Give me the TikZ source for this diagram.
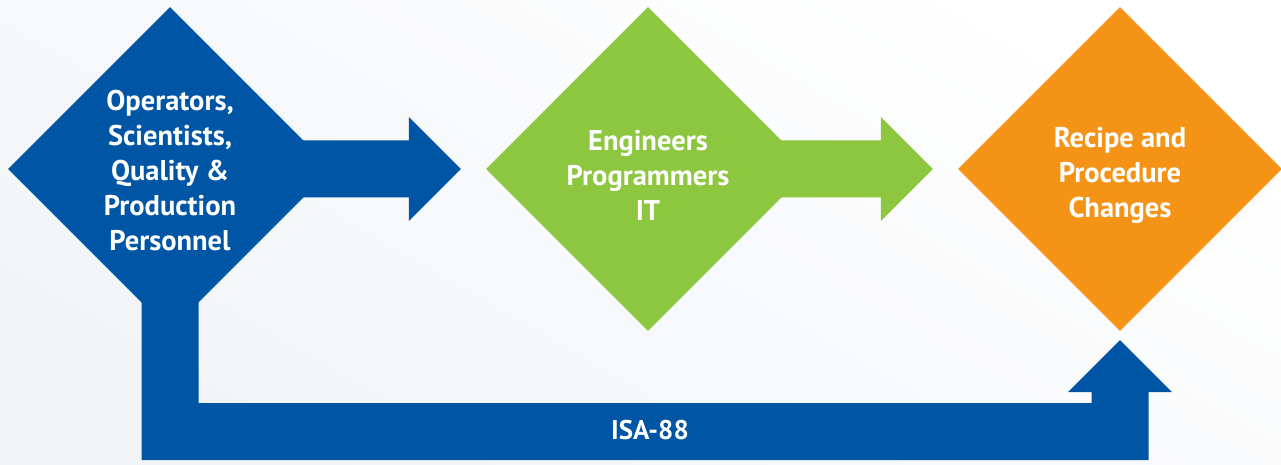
\documentclass[tikz,border=0pt]{standalone}
\usepackage{fontspec}
\setmainfont{PT Sans}
\usetikzlibrary{shapes.geometric,calc,backgrounds}

\definecolor{isablue}{RGB}{0,85,164}
\definecolor{isagreen}{RGB}{141,198,63}
\definecolor{isaorange}{RGB}{244,147,22}
\definecolor{bggray}{RGB}{242,244,247}

\tikzset{
  stage/.style={diamond, minimum width=324pt, minimum height=324pt, inner sep=0pt},
  stagetext/.style={text=white, align=center, font=\bfseries\fontsize{28.5}{35}\selectfont},
  barlabel/.style={text=white, font=\bfseries\fontsize{27}{32}\selectfont}
}

% block arrow from one stage to the next
\newcommand\flowarrow[3]{%
  \fill[#1] ($(#2.center)+(0,28.5)$) -- ($(#3.west)+(-77,28.5)$) -- ++(0,23.5)
    -- ($(#3.west)+(-25,0)$) -- ($(#3.west)+(-77,-52)$) -- ++(0,23.5)
    -- ($(#2.center)+(0,-28.5)$) -- cycle;}

\begin{document}
\begin{tikzpicture}[x=1pt,y=1pt]
\useasboundingbox (0,0) rectangle (1281,464);

\node[stage, fill=isablue, label={[stagetext, yshift=-2pt]center:{Operators,\\Scientists,\\Quality \&\\Production\\Personnel}}] (ops) at (170,295) {};
\node[stage, fill=isagreen, label={[stagetext, yshift=-6pt]center:{Engineers\\Programmers\\IT}}] (eng) at (648,295) {};
\node[stage, fill=isaorange, label={[stagetext, yshift=-6pt]center:{Recipe and\\Procedure\\Changes}}] (rcp) at (1120,295) {};

\begin{scope}[on background layer]
  \shade[shading=axis, top color=white, bottom color=bggray, shading angle=-30] (0,0) rectangle (1281,464);

  \flowarrow{isablue}{ops}{eng}
  \flowarrow{isagreen}{eng}{rcp}

  % ISA-88 path back to the recipes
  \fill[isablue] ($(ops.center)+(-28.5,0)$) |- ($(rcp.south)+(28.5,-129)$)
    -- ($(rcp.south)+(28.5,-61)$) -- ++(23.5,0) -- ($(rcp.south)+(0,-9)$)
    -- ($(rcp.south)+(-52,-61)$) -- ++(23.5,0) -- ($(rcp.south)+(-28.5,-72)$)
    -- ($(ops.center |- rcp.south)+(28.5,-72)$) -- ($(ops.center)+(28.5,0)$) -- cycle;
\end{scope}

\node[barlabel] (isa) at (650,34) {ISA-88};

\end{tikzpicture}
\end{document}
